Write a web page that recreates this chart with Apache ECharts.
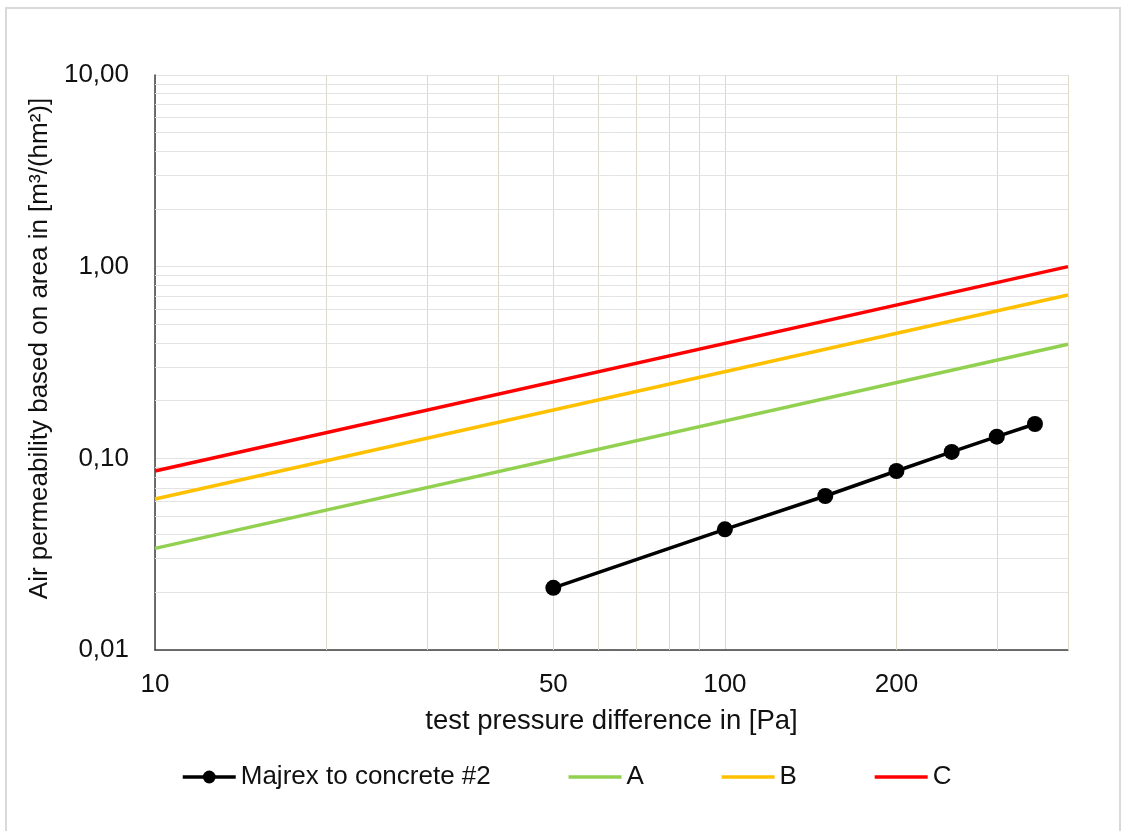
<!DOCTYPE html>
<html><head><meta charset="utf-8">
<script src="https://cdn.jsdelivr.net/npm/echarts@6/dist/echarts.min.js"></script>
<style>html,body{margin:0;padding:0;background:#fff}#c{width:1121px;height:831px}</style>
</head><body><div id="c"></div>
<script>
// ---- data ----
const pressure = [50, 100, 150, 200, 250, 300, 350];
const majrex = [0.0211, 0.0426, 0.0636, 0.0859, 0.108, 0.1297, 0.151];
const classPressure = [10, 400];
const classA = [0.0339, 0.394];
const classB = [0.0614, 0.711];
const classC = [0.0859, 1.0];
const seriesNames = ['Majrex to concrete #2', 'A', 'B', 'C'];
const xMinorGrid = [20, 30, 40, 50, 60, 70, 80, 90, 200, 300, 400];
const xTickLabels = [10, 50, 100, 200];
const yMinorGrid = [0.02, 0.03, 0.04, 0.05, 0.06, 0.07, 0.08, 0.09,
                    0.2, 0.3, 0.4, 0.5, 0.6, 0.7, 0.8, 0.9,
                    2, 3, 4, 5, 6, 7, 8, 9];
const yTickLabels = [0.01, 0.1, 1, 10];

const FONT = "'Liberation Sans', Arial, sans-serif";
const TXT = '#111';
const VGRID = '#dcdac6';
const HGRID = '#e3e3e3';

function pairs(xs, ys) { return xs.map((x, i) => [x, ys[i]]); }
function fmtComma(v) { return Number(v).toFixed(2).replace('.', ','); }

const chart = echarts.init(document.getElementById('c'), null, {renderer: 'canvas'});

const markData = []
  .concat(xMinorGrid.map(v => ({xAxis: v, lineStyle: {color: VGRID, width: 1, type: 'solid'}, label: {show: false}})))
  .concat(yMinorGrid.map(v => ({yAxis: v, lineStyle: {color: HGRID, width: 1, type: 'solid'}, label: {show: false}})))
  .concat(xTickLabels.map(v => ({
    xAxis: v,
    lineStyle: {color: 'rgba(0,0,0,0)', width: 0},
    label: {show: true, position: 'start', distance: 22, formatter: String(v),
            fontSize: 26, color: TXT, fontFamily: FONT, opacity: 1}
  })));

chart.setOption({
  animation: false,
  backgroundColor: '#fff',
  textStyle: {fontFamily: FONT},
  graphic: [{
    type: 'rect', silent: true, z: -10,
    shape: {x: 6, y: 8, width: 1114, height: 860},
    style: {fill: 'none', stroke: '#d9d9d9', lineWidth: 2}
  }],
  grid: {left: 155, top: 75, right: 53, bottom: 181, containLabel: false, outerBoundsMode: 'none'},
  legend: {
    data: [
      {name: seriesNames[0]},
      {name: seriesNames[1], itemStyle: {opacity: 0}},
      {name: seriesNames[2], itemStyle: {opacity: 0}},
      {name: seriesNames[3], itemStyle: {opacity: 0}}
    ],
    left: 176, top: 759,
    itemWidth: 53, itemHeight: 16, itemGap: 76,
    lineStyle: {width: 3.5},
    textStyle: {fontSize: 26, color: TXT, fontFamily: FONT}
  },
  xAxis: {
    type: 'log', logBase: 10, min: 10, max: 400,
    name: 'test pressure difference in [Pa]',
    nameLocation: 'middle', nameGap: 57,
    nameTextStyle: {fontSize: 27.5, color: TXT, fontFamily: FONT},
    axisLine: {show: true, lineStyle: {color: '#404040', width: 1.5}},
    axisTick: {show: false},
    axisLabel: {show: false},
    splitLine: {show: true, lineStyle: {color: VGRID, width: 1}},
    minorTick: {show: false}, minorSplitLine: {show: false}
  },
  yAxis: {
    type: 'log', logBase: 10, min: 0.01, max: 10,
    name: 'Air permeability based on area in [m³/(hm²)]',
    nameLocation: 'middle', nameRotate: 90, nameGap: 93,
    nameTextStyle: {fontSize: 26, color: TXT, fontFamily: FONT, padding: [0, 0, 0, 28]},
    axisLine: {show: true, lineStyle: {color: '#404040', width: 1.5}},
    axisTick: {show: false},
    axisLabel: {show: true, margin: 26, fontSize: 26, color: TXT, fontFamily: FONT,
                formatter: v => fmtComma(v)},
    splitLine: {show: true, lineStyle: {color: HGRID, width: 1}},
    minorTick: {show: false}, minorSplitLine: {show: false}
  },
  series: [
    {
      name: '_grid', type: 'line', data: [], silent: true, z: 1,
      markLine: {
        silent: true, z: 1, animation: false,
        symbol: ['none', 'none'],
        data: markData
      }
    },
    {
      name: 'A', type: 'line', z: 3, symbol: 'none',
      data: pairs(classPressure, classA),
      itemStyle: {color: '#92d050'},
      lineStyle: {color: '#92d050', width: 3.5}
    },
    {
      name: 'B', type: 'line', z: 3, symbol: 'none',
      data: pairs(classPressure, classB),
      itemStyle: {color: '#ffc000'},
      lineStyle: {color: '#ffc000', width: 3.5}
    },
    {
      name: 'C', type: 'line', z: 3, symbol: 'none',
      data: pairs(classPressure, classC),
      itemStyle: {color: '#ff0000'},
      lineStyle: {color: '#ff0000', width: 3.5}
    },
    {
      name: 'Majrex to concrete #2', type: 'line', z: 4,
      symbol: 'circle', symbolSize: 16,
      data: pairs(pressure, majrex),
      itemStyle: {color: '#000'},
      lineStyle: {color: '#000', width: 3.5}
    }
  ]
});
</script>
</body></html>
